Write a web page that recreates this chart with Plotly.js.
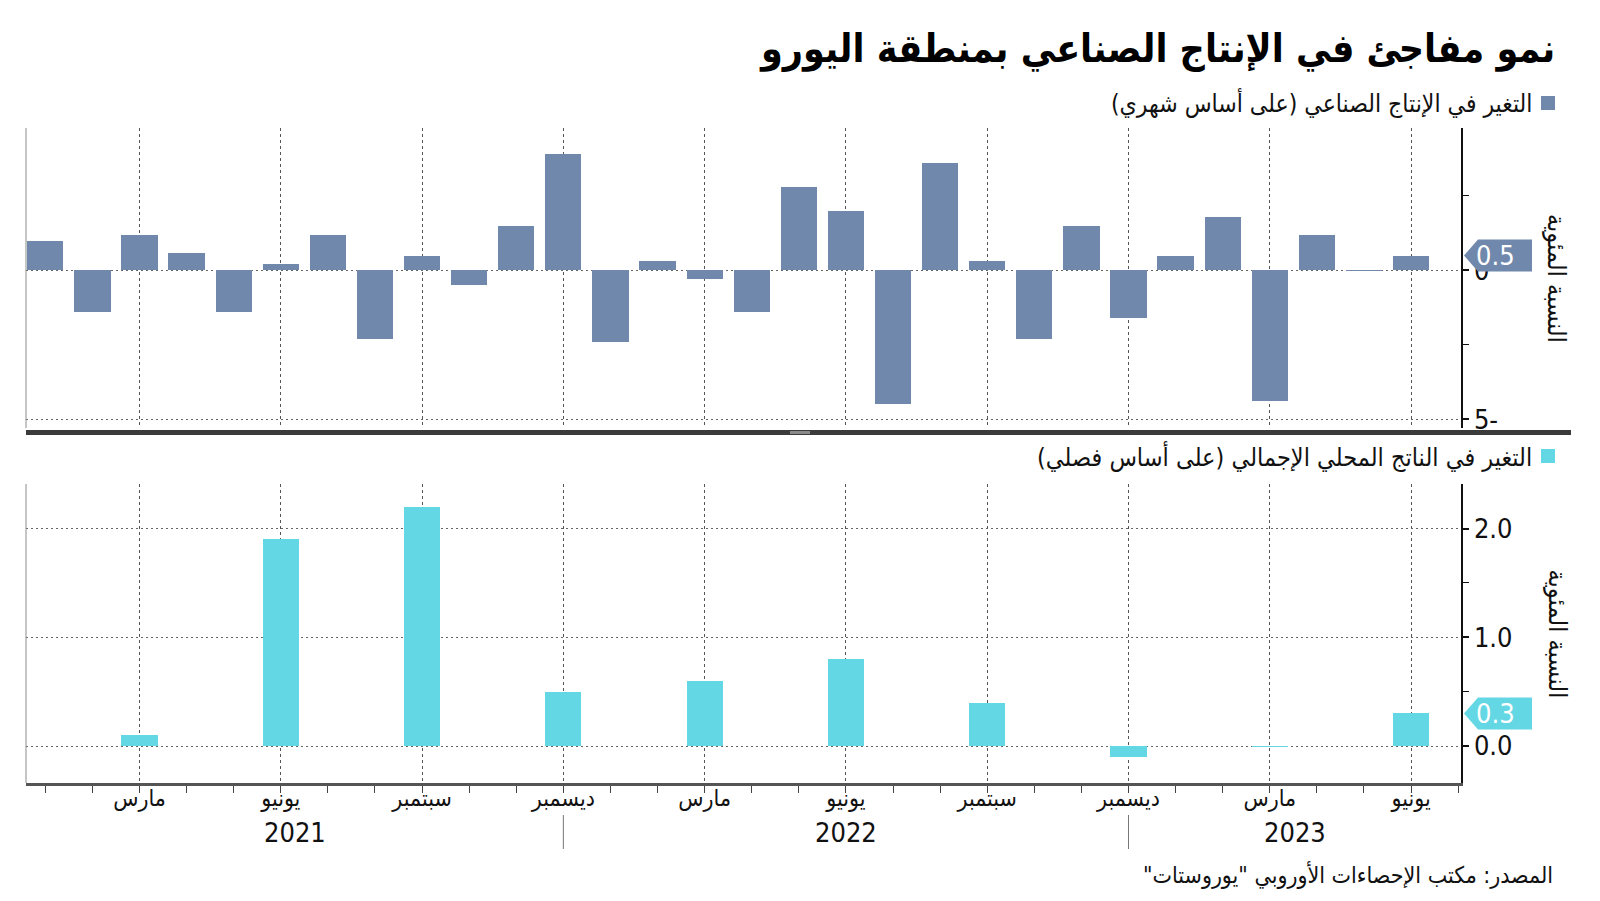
<!DOCTYPE html>
<html><head><meta charset="utf-8">
<script src="https://cdn.plot.ly/plotly-3.0.1.min.js"></script>
<style>html,body{margin:0;padding:0;background:#fff}#chart{width:1600px;height:901px}</style>
</head><body><div id="chart"></div>
<script>
// ---------- data ----------
const months = ['2021-01','2021-02','2021-03','2021-04','2021-05','2021-06','2021-07','2021-08','2021-09','2021-10','2021-11','2021-12',
                '2022-01','2022-02','2022-03','2022-04','2022-05','2022-06','2022-07','2022-08','2022-09','2022-10','2022-11','2022-12',
                '2023-01','2023-02','2023-03','2023-04','2023-05','2023-06'];
const ipValues = [1.0, -1.4, 1.2, 0.6, -1.4, 0.2, 1.2, -2.3, 0.5, -0.5, 1.5, 3.9,
                  -2.4, 0.3, -0.3, -1.4, 2.8, 2.0, -4.5, 3.6, 0.3, -2.3, 1.5, -1.6,
                  0.5, 1.8, -4.4, 1.2, -0.03, 0.5];
const gdpQuarters = ['2021-03','2021-06','2021-09','2021-12','2022-03','2022-06','2022-09','2022-12','2023-03','2023-06'];
const gdpValues = [0.1, 1.9, 2.2, 0.5, 0.6, 0.8, 0.4, -0.1, -0.01, 0.3];
const tickMonths = ['2021-03','2021-06','2021-09','2021-12','2022-03','2022-06','2022-09','2022-12','2023-03','2023-06'];
const tickLabels = ['مارس','يونيو','سبتمبر','ديسمبر','مارس','يونيو','سبتمبر','ديسمبر','مارس','يونيو'];
const years = ['2021','2022','2023'];
const ipTickVals = [-5, 0];
const ipTickText = ['5-', '0'];
const ipMinorTicks = [-2.5, 2.5];
const gdpTickVals = [0, 1, 2];
const gdpTickText = ['0.0', '1.0', '2.0'];
const gdpMinorTicks = [0.5, 1.5];
const titleText = 'نمو مفاجئ في الإنتاج الصناعي بمنطقة اليورو';
const ipLabel = 'التغير في الإنتاج الصناعي (على أساس شهري)';
const gdpLabel = 'التغير في الناتج المحلي الإجمالي (على أساس فصلي)';
const yTitle = 'النسبة المئوية';
const sourceText = 'المصدر: مكتب الإحصاءات الأوروبي "يوروستات"';

// ---------- style ----------
const IP_COLOR = '#6f88ab';
const GDP_COLOR = '#64d7e4';
const FONT = 'DejaVu Sans Condensed, DejaVu Sans, sans-serif';
const RLM = '\u200F';
const rtl = s => RLM + s + RLM;

const W = 1600, H = 901;
const L = 26, R = 1461, T = 128, B = 783;
const px = x => (x - L) / (R - L);
const py = y => (B - y) / (B - T);

const xRange = [-0.41, 30.06];
const idx = months.map((m, i) => i);
const gdpX = gdpQuarters.map(q => months.indexOf(q));
const tickIdx = tickMonths.map(m => months.indexOf(m));
const decIdx = months.map((m, i) => m.endsWith('-12') ? i : null).filter(v => v !== null);

const traces = [
  {type: 'bar', x: idx, y: ipValues, xaxis: 'x', yaxis: 'y', width: 0.77,
   marker: {color: IP_COLOR, line: {width: 0}}, hoverinfo: 'skip', showlegend: false},
  {type: 'bar', x: gdpX, y: gdpValues, xaxis: 'x2', yaxis: 'y2', width: 0.77,
   marker: {color: GDP_COLOR, line: {width: 0}}, hoverinfo: 'skip', showlegend: false}
];

const topDomain = [py(428), 1];
const botDomain = [0, py(484)];

const shapes = [];
const annotations = [];

// divider bar between panels
shapes.push({type: 'rect', xref: 'paper', yref: 'paper', x0: px(26), x1: px(1571), y0: py(435), y1: py(430),
             fillcolor: '#3b3b3b', line: {width: 0}, layer: 'above'});
shapes.push({type: 'rect', xref: 'paper', yref: 'paper', x0: px(790), x1: px(810), y0: py(434), y1: py(431),
             fillcolor: '#8a8a8a', line: {width: 0}, layer: 'above'});
// left edge lines
shapes.push({type: 'line', xref: 'paper', yref: 'paper', x0: 0, x1: 0, y0: topDomain[0], y1: topDomain[1], line: {color: '#8c8c8c', width: 1}});
shapes.push({type: 'line', xref: 'paper', yref: 'paper', x0: 0, x1: 0, y0: botDomain[0], y1: botDomain[1], line: {color: '#8c8c8c', width: 1}});

// year separators
decIdx.forEach(d => {
  shapes.push({type: 'line', xref: 'x2', yref: 'paper', x0: d, x1: d, y0: py(815), y1: py(849), line: {color: '#777', width: 1}});
});
// year labels
years.forEach((yr, k) => {
  const prevSep = k === 0 ? xRange[0] : decIdx[k - 1];
  const sep = decIdx[k] !== undefined ? decIdx[k] : xRange[1];
  const start = Math.max(xRange[0], prevSep), end = Math.min(xRange[1], sep);
  annotations.push({xref: 'x2', yref: 'paper', x: (start + end) / 2, y: py(832), text: yr, showarrow: false,
                    xanchor: 'center', yanchor: 'middle', font: {family: FONT, size: 27, color: '#111'}});
});

// last value boxes
function lastBox(values, yref, color) {
  const v = values[values.length - 1];
  shapes.push({type: 'path', xref: 'paper', yref: yref, xsizemode: 'pixel', ysizemode: 'pixel',
               xanchor: 1, yanchor: v, path: 'M3,0 L17,-16 L71,-16 L71,16 L17,16 Z',
               fillcolor: color, line: {width: 0}, layer: 'above'});
  annotations.push({xref: 'paper', yref: yref, x: 1, y: v, xshift: 34, text: v.toFixed(1), showarrow: false,
                    xanchor: 'center', yanchor: 'middle', font: {family: FONT, size: 27, color: '#ffffff'}});
}
lastBox(ipValues, 'y', IP_COLOR);
lastBox(gdpValues, 'y2', GDP_COLOR);

// title
annotations.push({xref: 'paper', yref: 'paper', x: px(1557), y: py(49), xanchor: 'right', yanchor: 'middle',
                  text: '<b>' + rtl(titleText) + '</b>', showarrow: false, font: {family: FONT, size: 39, color: '#000'}});
// legend labels
function legend(text, color, yPix, size) {
  shapes.push({type: 'rect', xref: 'paper', yref: 'paper', x0: px(1541), x1: px(1555), y0: py(yPix + 7), y1: py(yPix - 7),
               fillcolor: color, line: {width: 0}});
  annotations.push({xref: 'paper', yref: 'paper', x: px(1534), y: py(yPix), xanchor: 'right', yanchor: 'middle',
                    text: rtl(text), showarrow: false, font: {family: FONT, size: size, color: '#111'}});
}
legend(ipLabel, IP_COLOR, 103, 24.5);
legend(gdpLabel, GDP_COLOR, 456, 25);

// y titles (rotated clockwise)
annotations.push({xref: 'paper', yref: 'paper', x: px(1557), y: (topDomain[0] + topDomain[1]) / 2, textangle: 90,
                  text: rtl(yTitle), showarrow: false, xanchor: 'center', yanchor: 'middle', font: {family: FONT, size: 25, color: '#111'}});
annotations.push({xref: 'paper', yref: 'paper', x: px(1557), y: (botDomain[0] + botDomain[1]) / 2, textangle: 90,
                  text: rtl(yTitle), showarrow: false, xanchor: 'center', yanchor: 'middle', font: {family: FONT, size: 25, color: '#111'}});
// source
annotations.push({xref: 'paper', yref: 'paper', x: px(1555), y: py(875), xanchor: 'right', yanchor: 'middle',
                  text: rtl(sourceText), showarrow: false, font: {family: FONT, size: 23, color: '#111'}});

const vGrid = {showgrid: true, gridcolor: '#555', griddash: '3px,3px', gridwidth: 1, tickmode: 'array', tickvals: tickIdx};

const layout = {
  width: W, height: H,
  margin: {l: L, r: W - R, t: T, b: H - B, pad: 0},
  paper_bgcolor: '#fff', plot_bgcolor: 'rgba(0,0,0,0)',
  showlegend: false, bargap: 0,
  font: {family: FONT, color: '#111'},
  xaxis: Object.assign({}, vGrid, {anchor: 'y', range: xRange, showticklabels: false, ticks: '', showline: false, zeroline: false, fixedrange: true}),
  xaxis2: Object.assign({}, vGrid, {anchor: 'y2', range: xRange, ticktext: tickLabels, ticks: 'outside', ticklen: 7, tickwidth: 1, tickcolor: '#444',
           showline: true, linecolor: '#555', linewidth: 2.5, zeroline: false, ticklabelstandoff: -14,
           tickfont: {family: FONT, size: 23, color: '#111'},
           minor: {tickmode: 'linear', tick0: 0, dtick: 1, ticks: 'outside', ticklen: 7, tickwidth: 1, tickcolor: '#444', showgrid: false}}),
  yaxis: {domain: topDomain, anchor: 'x', side: 'right', range: [-5.29, 4.78], tickmode: 'array', tickvals: ipTickVals, ticktext: ipTickText,
          showgrid: true, gridcolor: '#666', griddash: '2px,3px', gridwidth: 1, zeroline: false,
          showline: true, linecolor: '#111', linewidth: 1.5, ticks: 'outside', ticklen: 6, tickwidth: 2, tickcolor: '#111',
          tickfont: {family: FONT, size: 27, color: '#111'},
          minor: {tickmode: 'array', tickvals: ipMinorTicks, ticks: 'outside', ticklen: 6, tickwidth: 1, tickcolor: '#111', showgrid: false}},
  yaxis2: {domain: botDomain, anchor: 'x2', side: 'right', range: [-0.34, 2.41], tickmode: 'array', tickvals: gdpTickVals, ticktext: gdpTickText,
          showgrid: true, gridcolor: '#666', griddash: '2px,3px', gridwidth: 1, zeroline: false,
          showline: true, linecolor: '#111', linewidth: 1.5, ticks: 'outside', ticklen: 6, tickwidth: 2, tickcolor: '#111',
          tickfont: {family: FONT, size: 27, color: '#111'},
          minor: {tickmode: 'array', tickvals: gdpMinorTicks, ticks: 'outside', ticklen: 6, tickwidth: 1, tickcolor: '#111', showgrid: false}},
  shapes: shapes,
  annotations: annotations
};

Plotly.newPlot('chart', traces, layout, {staticPlot: true, displayModeBar: false});
</script>
</body></html>
